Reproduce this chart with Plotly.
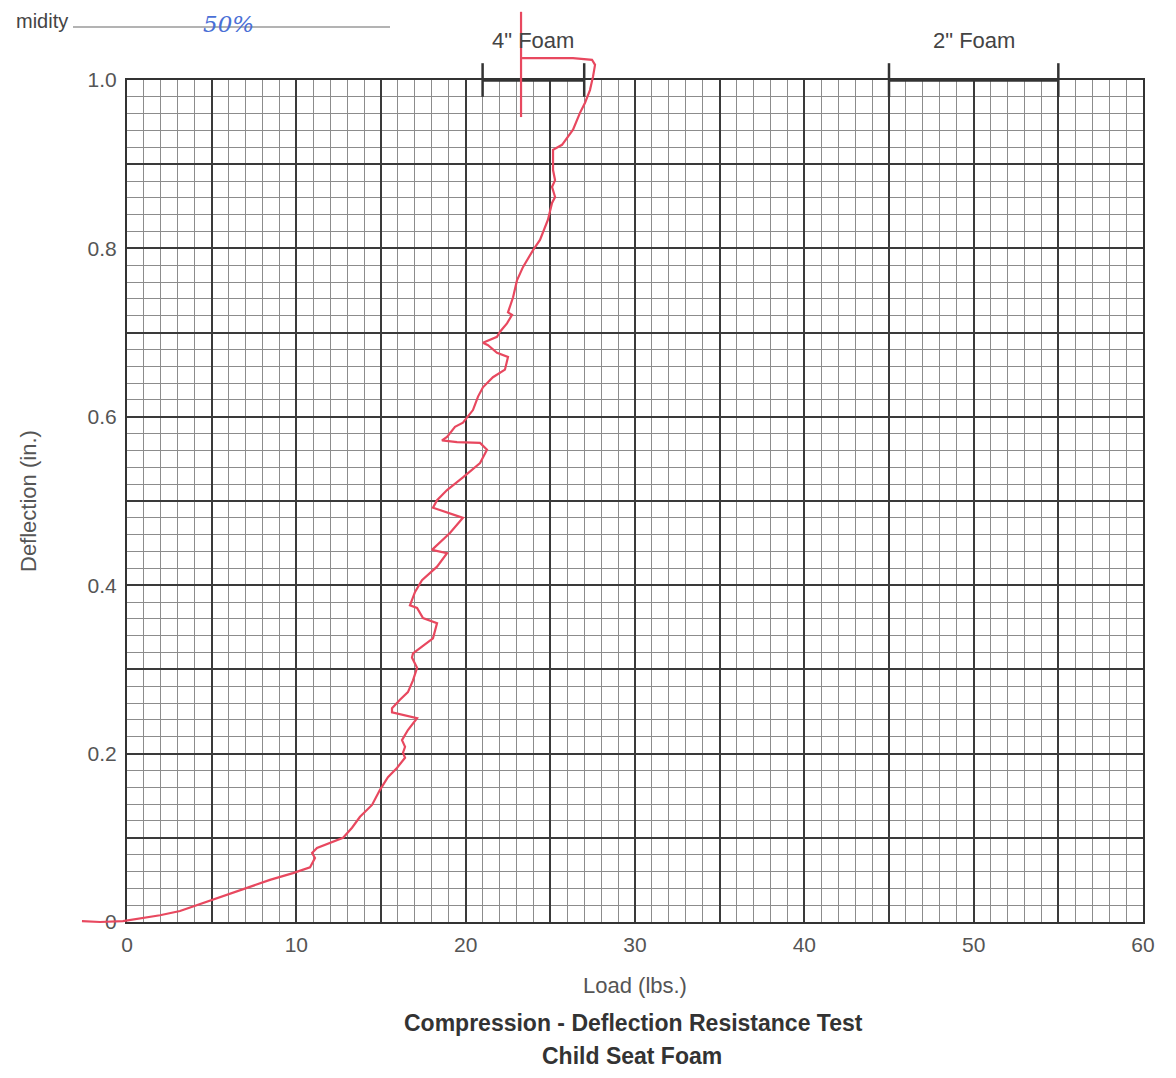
import plotly.graph_objects as go

# ---------------- data ----------------
load_lbs = [-2.66, -1.59, -0.24, 0.77, 1.95, 3.13, 4.72, 5.79, 7.09, 8.44,
            9.80, 10.81, 11.10, 10.93, 11.22, 12.76, 13.29, 13.76, 14.47, 14.94,
            15.41, 15.94, 16.42, 16.30, 16.42, 16.24, 16.59, 17.13, 15.65, 15.65,
            16.12, 16.59, 16.89, 17.13, 16.83, 16.89, 17.42, 18.07, 18.31, 17.48,
            17.13, 16.71, 17.01, 17.42, 18.31, 18.90, 18.01, 19.07, 19.84, 18.07,
            18.31, 18.90, 19.84, 20.85, 21.26, 20.85, 19.49, 18.60, 18.90, 19.37,
            19.84, 20.43, 20.73, 21.02, 21.61, 22.32, 22.50, 21.85, 21.32, 21.02,
            21.85, 22.03, 22.44, 22.74, 22.50, 22.80, 23.03, 23.39, 23.98, 24.39,
            24.86, 25.10, 25.28, 25.10, 25.28, 25.16, 25.16, 25.69, 26.34, 26.75,
            27.05, 27.34, 27.52, 27.64, 27.46, 26.34, 23.33]
deflection_in = [0.001, 0.000, 0.001, 0.004, 0.008, 0.013, 0.024, 0.031, 0.040, 0.050,
                 0.058, 0.065, 0.076, 0.082, 0.088, 0.100, 0.112, 0.125, 0.139, 0.157,
                 0.172, 0.183, 0.195, 0.201, 0.208, 0.216, 0.228, 0.242, 0.249, 0.254,
                 0.264, 0.273, 0.287, 0.302, 0.314, 0.319, 0.327, 0.337, 0.355, 0.361,
                 0.373, 0.376, 0.392, 0.406, 0.422, 0.438, 0.442, 0.462, 0.480, 0.492,
                 0.501, 0.513, 0.528, 0.545, 0.561, 0.569, 0.570, 0.572, 0.576, 0.588,
                 0.593, 0.608, 0.624, 0.635, 0.647, 0.656, 0.671, 0.676, 0.685, 0.688,
                 0.695, 0.701, 0.711, 0.721, 0.724, 0.742, 0.762, 0.778, 0.798, 0.810,
                 0.834, 0.854, 0.861, 0.873, 0.881, 0.893, 0.917, 0.923, 0.941, 0.961,
                 0.973, 0.988, 1.004, 1.018, 1.024, 1.026, 1.026]

mark_load = [23.27, 23.27]
mark_defl = [1.081, 0.956]

foam_labels = ['4" Foam', '2" Foam']
foam_lo = [21, 45]
foam_hi = [27, 55]
foam_level = 1.0

x_labels = [0, 10, 20, 30, 40, 50, 60]
y_labels = [0, 0.2, 0.4, 0.6, 0.8, 1.0]
y_label_text = ['0', '0.2', '0.4', '0.6', '0.8', '1.0']
x_major_step, x_minor_step = 5, 1
y_major_step, y_minor_step = 0.1, 0.02

# ---------------- geometry (screen pixels) ----------------
W, H = 1176, 1078
OFF = 8                    # page body margin
FW, FH = W - OFF, H - OFF  # figure size
PX0, PX1 = 127, 1143       # plot box left/right (screen px)
PY0, PY1 = 80, 922         # plot box top/bottom (screen px)
XMIN, XMAX = 0, 60
YMIN, YMAX = 0, 1.0

sx = (XMAX - XMIN) / (PX1 - PX0)
sy = (YMAX - YMIN) / (PY1 - PY0)
x2_range = [XMIN - (PX0 - OFF) * sx, XMAX + (W - PX1) * sx]
y2_range = [YMIN - (H - PY1) * sy, YMAX + (PY0 - OFF) * sy]


def fx(p):
    return (p - OFF) / FW


def fy(p):
    return 1 - (p - OFF) / FH


def steps(lo, hi, st):
    n = int(round((hi - lo) / st))
    return [round(lo + i * st, 4) for i in range(n + 1)]


x_minor = steps(XMIN, XMAX, x_minor_step)
y_minor = steps(YMIN, YMAX, y_minor_step)
x_major = steps(XMIN, XMAX, x_major_step)
y_major = steps(YMIN, YMAX, y_major_step)
x_minor_text = [str(v) if v in x_labels else '' for v in x_minor]
y_minor_text = []
for v in y_minor:
    hit = [t for lv, t in zip(y_labels, y_label_text) if abs(lv - v) < 1e-6]
    y_minor_text.append(hit[0] if hit else '')

FONT = "Liberation Sans, Arial, sans-serif"
RED = "#e8485f"
DARK = "#3a3a3a"
MINOR = "#8c8c8c"

fig = go.Figure()

# empty traces to anchor the grid subplots
fig.add_trace(go.Scatter(x=[], y=[], xaxis="x", yaxis="y", showlegend=False, hoverinfo="skip"))
fig.add_trace(go.Scatter(x=[], y=[], xaxis="x3", yaxis="y3", showlegend=False, hoverinfo="skip"))

# foam range bars
for lab, lo, hi in zip(foam_labels, foam_lo, foam_hi):
    fig.add_trace(go.Scatter(
        x=[lo, hi], y=[foam_level, foam_level], xaxis="x2", yaxis="y2",
        mode="lines+markers",
        line=dict(color="#333333", width=3.5),
        marker=dict(symbol="line-ns", size=24, line=dict(color="#333333", width=2.5)),
        showlegend=False, hoverinfo="skip"))
    fig.add_annotation(x=(lo + hi) / 2, y=foam_level, xref="x2", yref="y2",
                       xanchor="center", yanchor="middle",
                       text=lab, showarrow=False, yshift=40,
                       font=dict(family=FONT, size=22, color="#444444"))

# curve
fig.add_trace(go.Scatter(
    x=load_lbs, y=deflection_in, xaxis="x2", yaxis="y2", mode="lines",
    line=dict(color=RED, width=2.2), showlegend=False))
fig.add_trace(go.Scatter(
    x=mark_load, y=mark_defl, xaxis="x2", yaxis="y2", mode="lines",
    line=dict(color=RED, width=2.2), showlegend=False))

fig.update_layout(
    width=FW, height=FH,
    margin=dict(l=0, r=0, t=0, b=0, pad=0),
    paper_bgcolor="white",
    plot_bgcolor="rgba(0,0,0,0)",
    font=dict(family=FONT, color="#555555"),
    # fine grid + labels + frame
    xaxis=dict(
        domain=[fx(PX0), fx(PX1)], range=[XMIN, XMAX], anchor="y",
        tickmode="array", tickvals=x_minor, ticktext=x_minor_text,
        showgrid=True, gridcolor=MINOR, gridwidth=1.3,
        showline=True, mirror=True, linecolor="#333333", linewidth=2,
        zeroline=False, ticks="", ticklabelstandoff=3,
        tickfont=dict(family=FONT, size=21, color="#555555"),
        automargin=False, fixedrange=True),
    yaxis=dict(
        domain=[fy(PY1), fy(PY0)], range=[YMIN, YMAX], anchor="x",
        tickmode="array", tickvals=y_minor, ticktext=y_minor_text,
        showgrid=True, gridcolor=MINOR, gridwidth=1.3,
        showline=True, mirror=True, linecolor="#333333", linewidth=2,
        zeroline=False, ticks="", ticklabelstandoff=4,
        tickfont=dict(family=FONT, size=21, color="#555555"),
        automargin=False, fixedrange=True),
    # heavy grid every 5 lbs / 0.1 in.
    xaxis3=dict(overlaying="x", anchor="y3", range=[XMIN, XMAX],
                tickmode="array", tickvals=x_major, showticklabels=False,
                showgrid=True, gridcolor=DARK, gridwidth=2.2, ticks="",
                showline=False, zeroline=False, fixedrange=True),
    yaxis3=dict(overlaying="y", anchor="x3", range=[YMIN, YMAX],
                tickmode="array", tickvals=y_major, showticklabels=False,
                showgrid=True, gridcolor=DARK, gridwidth=2.2, ticks="",
                showline=False, zeroline=False, fixedrange=True),
    # full-page data axes for the pen trace
    xaxis2=dict(domain=[0, 1], range=x2_range, anchor="y2", visible=False, fixedrange=True),
    yaxis2=dict(domain=[0, 1], range=y2_range, anchor="x2", visible=False, fixedrange=True),
)


def label(xp, yp, text, size, color, angle=0, family=FONT, xanchor="center"):
    fig.add_annotation(x=fx(xp), y=fy(yp), xref="paper", yref="paper",
                       xanchor=xanchor, yanchor="middle", textangle=angle,
                       text=text, showarrow=False,
                       font=dict(family=family, size=size, color=color))


# axis titles and chart title
label((PX0 + PX1) / 2, 985, "Load (lbs.)", 22, "#555555")
label(28, (PY0 + PY1) / 2, "Deflection (in.)", 22, "#555555", angle=-90)
label(633, 1023, "<b>Compression - Deflection Resistance Test</b>", 23, "#333333")
label(632, 1056, "<b>Child Seat Foam</b>", 23, "#333333")

# header remnants of the form
label(70, 21, "midity", 20, "#444444", xanchor="right")
fig.add_shape(type="line", xref="paper", yref="paper",
              x0=fx(73), x1=fx(390), y0=fy(27), y1=fy(27),
              line=dict(color="#9a9a9a", width=1.5))
label(228, 24, "<i>50%</i>", 23, "#4a6fd6", family="DejaVu Serif")

fig.write_html("out.html")
